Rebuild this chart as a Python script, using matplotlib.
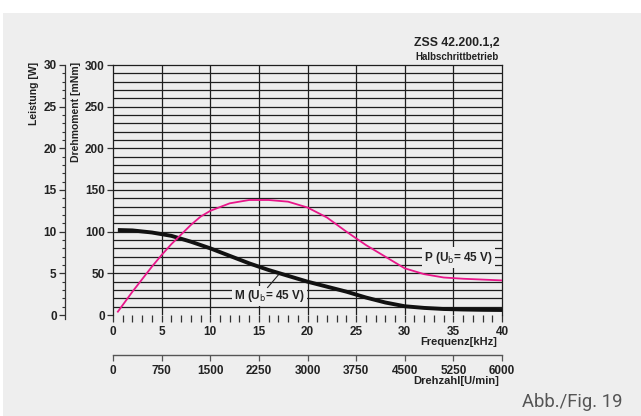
import matplotlib
matplotlib.use("Agg")
import matplotlib.pyplot as plt
from matplotlib.patches import Rectangle
import numpy as np

# ---- data ----
freq_khz = [0.5, 2, 4, 5, 6, 8, 9, 10, 12, 14, 16, 18, 20, 22, 24, 26, 28, 30, 32, 34, 36, 38, 40]
torque_mnm = [102, 101.5, 99, 97, 95, 88, 84, 80, 71, 62, 54, 47, 40, 34, 28, 21, 15, 10.5, 8.5, 7.2, 6.6, 6.2, 6.0]
power_w = [0.4, 2.8, 5.8, 7.2, 8.5, 10.8, 11.8, 12.5, 13.4, 13.8, 13.8, 13.6, 12.9, 11.7, 10.0, 8.4, 7.0, 5.6, 4.9, 4.5, 4.35, 4.25, 4.15]

freq_ticks = [0, 5, 10, 15, 20, 25, 30, 35, 40]
speed_ticks = [0, 750, 1500, 2250, 3000, 3750, 4500, 5250, 6000]
torque_ticks = [0, 50, 100, 150, 200, 250, 300]
power_ticks = [0, 5, 10, 15, 20, 25, 30]

FONT = "Liberation Sans"
BG = "#eeeeee"
MAGENTA = "#e8178a"

W, H = 641, 416
fig = plt.figure(figsize=(W / 100, H / 100), dpi=100)
fig.patch.set_facecolor("white")
fig.patches.append(Rectangle((3 / W, 0), 1, 1 - 13 / H, transform=fig.transFigure,
                             facecolor=BG, edgecolor="none", zorder=-10))

def fx(px):
    return px / W

def fy(py):
    return 1 - py / H

left, right, top, bottom = 113, 502, 65, 315
ax = fig.add_axes([fx(left), fy(bottom), fx(right - left), fy(top) - fy(bottom)])
ax.set_facecolor("none")
ax.set_xlim(0, 40)
ax.set_ylim(0, 300)

# grid
for yv in range(10, 300, 10):
    ax.axhline(yv, color="#1e1e1e", lw=0.9, zorder=1)
for xv in freq_ticks[1:-1]:
    ax.axvline(xv, color="#1e1e1e", lw=0.9, zorder=1)

for s in ["top", "right", "left"]:
    ax.spines[s].set_color("#1e1e1e")
    ax.spines[s].set_linewidth(0.9)
ax.spines["bottom"].set_visible(False)

# power axis (left, outward)
axp = ax.twinx()
axp.set_ylim(0, 30)
axp.yaxis.set_ticks_position("left")
axp.yaxis.set_label_position("left")
axp.spines["left"].set_position(("outward", (left - 65) * 0.72))
axp.spines["left"].set_color("#333")
axp.spines["left"].set_linewidth(0.9)
axp.spines["left"].set_bounds(-0.5, 30)
for s in ["right", "top", "bottom"]:
    axp.spines[s].set_visible(False)
axp.set_yticks(power_ticks)
axp.set_yticks(np.arange(0, 31, 1), minor=True)
axp.set_yticklabels([str(t) for t in power_ticks], fontsize=8.5, family=FONT, fontweight="bold", color="#222")
axp.tick_params(axis="y", which="major", direction="out", length=4, width=0.9, color="#333", pad=2)
axp.tick_params(axis="y", which="minor", direction="out", length=2.5, width=0.8, color="#333")

ax.set_xticks(freq_ticks)
ax.set_xticks(np.arange(0, 41, 1), minor=True)
ax.set_xticklabels([str(t) for t in freq_ticks], fontsize=8.5, family=FONT, fontweight="bold", color="#222")
ax.tick_params(axis="x", which="both", direction="out", length=5, width=0.9, color="#333", pad=3,
               bottom=True, labelbottom=True)
ax.set_yticks(torque_ticks)
ax.set_yticklabels([str(t) for t in torque_ticks], fontsize=8.5, family=FONT, fontweight="bold", color="#222")
ax.tick_params(axis="y", which="major", direction="out", length=4, width=0.9, color="#333", pad=2)

# curves
ax.plot(freq_khz, torque_mnm, color="#111", lw=2.8, solid_capstyle="butt", zorder=3)
ax.plot(freq_khz, np.array(power_w) * 10, color=MAGENTA, lw=1.3, zorder=3)

# labels on curves
ax.text(35.5, 69, r"P (U$_\mathrm{b}$= 45 V)", fontsize=8.5, family=FONT, fontweight="bold",
        ha="center", va="center", color="#222", zorder=4,
        bbox=dict(facecolor=BG, edgecolor="none", pad=1.5))
ax.text(16.1, 22.5, r"M (U$_\mathrm{b}$= 45 V)", fontsize=8.5, family=FONT, fontweight="bold",
        ha="center", va="center", color="#222", zorder=4,
        bbox=dict(facecolor=BG, edgecolor="none", pad=1.5))
ax.plot([15.9, 17.0], [33, 48], color="#222", lw=0.8, zorder=4)

# speed axis
axs = fig.add_axes([fx(left), fy(355), fx(right - left), 0.001])
axs.set_facecolor("none")
axs.set_xlim(0, 6000)
axs.set_yticks([])
for s in ["right", "top", "left"]:
    axs.spines[s].set_visible(False)
axs.spines["bottom"].set_color("#555")
axs.spines["bottom"].set_linewidth(1.0)
axs.set_xticks(speed_ticks)
axs.set_xticklabels([str(t) for t in speed_ticks], fontsize=8.5, family=FONT, fontweight="bold", color="#222")
axs.tick_params(axis="x", direction="out", length=4, width=0.9, color="#555", pad=3)

# axis titles
fig.text(fx(34), fy(62), "Leistung [W]", rotation=90, ha="center", va="top",
         fontsize=7.5, family=FONT, fontweight="bold", color="#222")
fig.text(fx(76), fy(62), "Drehmoment [mNm]", rotation=90, ha="center", va="top",
         fontsize=7.5, family=FONT, fontweight="bold", color="#222")
fig.text(fx(497), fy(342), "Frequenz[kHz]", ha="right", va="center",
         fontsize=8, family=FONT, fontweight="bold", color="#222")
fig.text(fx(499), fy(381), "Drehzahl[U/min]", ha="right", va="center",
         fontsize=8, family=FONT, fontweight="bold", color="#222")
fig.text(fx(500), fy(43), "ZSS 42.200.1,2", ha="right", va="center",
         fontsize=8.8, family=FONT, fontweight="bold", color="#222")
fig.text(fx(499), fy(57), "Halbschrittbetrieb", ha="right", va="center",
         fontsize=7, family=FONT, fontweight="bold", color="#222")
fig.text(fx(622), fy(407), "Abb./Fig. 19", ha="right", va="baseline",
         fontsize=13.3, family="Roboto", color="#555")

fig.savefig("out.png", dpi=100, facecolor=fig.get_facecolor())
